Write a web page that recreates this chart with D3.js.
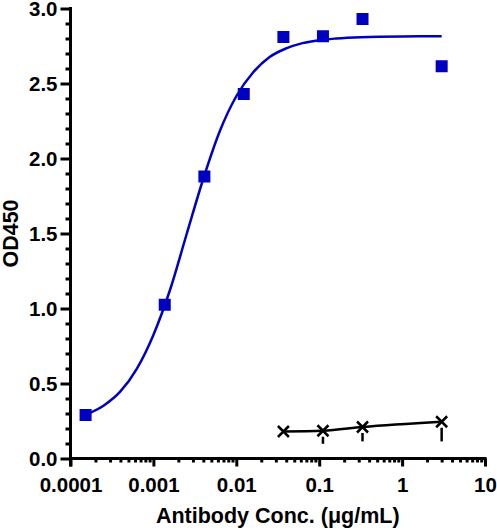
<!DOCTYPE html>
<html lang="en">
<head>
    <meta charset="UTF-8">
    <title>OD450 binding curve</title>
    <script type="text/javascript" src="https://cdn.jsdelivr.net/npm/d3@7/dist/d3.min.js"></script>
    <style>
        body { margin: 0; background: #fff; }
        .axis path,
        .axis line {
            fill: none;
            stroke: #000;
            stroke-width: 3px;
        }
        .axis text {
            font-family: "Liberation Sans", Arial, sans-serif;
            font-size: 20.5px;
            font-weight: bold;
            fill: #000;
        }
        .title {
            font-family: "Liberation Sans", Arial, sans-serif;
            font-size: 21.5px;
            font-weight: bold;
            fill: #000;
        }
    </style>
</head>
<body>
<script type="text/javascript">
    // 画布大小
    let width = 497;
    let height = 532;

    // 抗体浓度 (μg/mL)
    let concBlue = [0.000152, 0.00137, 0.00412, 0.0123, 0.037, 0.111, 0.333, 3];
    let odBlue = [0.29, 1.025, 1.88, 2.43, 2.81, 2.815, 2.93, 2.615];

    // 拟合曲线
    let curveConc = [0.000152, 0.00025, 0.0004, 0.00063, 0.001, 0.0016, 0.0025, 0.004, 0.0063,
        0.01, 0.016, 0.025, 0.04, 0.063, 0.1, 0.16, 0.32, 1, 3];
    let curveOd = [0.292, 0.352, 0.447, 0.598, 0.824, 1.13, 1.49, 1.865, 2.18,
        2.415, 2.575, 2.675, 2.734, 2.769, 2.789, 2.80, 2.809, 2.814, 2.815];

    // 对照组
    let concBlack = [0.037, 0.111, 0.333, 3];
    let odBlack = [0.18, 0.185, 0.21, 0.245];
    let odBlackLow = [0.18, 0.098, 0.114, 0.114];

    // 刻度
    let xTicks = [0.0001, 0.001, 0.01, 0.1, 1, 10];
    let xTickLabels = ['0.0001', '0.001', '0.01', '0.1', '1', '10'];
    let yTicks = [0, 0.5, 1, 1.5, 2, 2.5, 3];

    let svg = d3.select('body')
        .append('svg')
        .attr('width', width)
        .attr('height', height);

    // 比例尺
    let xScale = d3.scaleLog()
        .domain([0.0001, 10])
        .range([70.5, 485]);
    let yScale = d3.scaleLinear()
        .domain([0, 3])
        .range([458.5, 8.5]);

    // 次刻度
    let xMinor = [];
    xTicks.slice(0, -1).forEach(function (t) {
        for (let k = 2; k <= 9; k++) xMinor.push(t * k);
    });
    let yMinor = d3.range(0, 3.001, 0.1).filter(function (v) {
        return Math.abs(v * 2 - Math.round(v * 2)) > 1e-6;
    });

    svg.append('g')
        .attr('class', 'axis')
        .attr('transform', 'translate(0,' + yScale(0) + ')')
        .call(d3.axisBottom(xScale).tickValues(xMinor).tickSize(4).tickFormat('').tickSizeOuter(0))
        .select('.domain').remove();
    svg.append('g')
        .attr('class', 'axis')
        .attr('transform', 'translate(' + xScale(0.0001) + ',0)')
        .call(d3.axisLeft(yScale).tickValues(yMinor).tickSize(5).tickFormat('').tickSizeOuter(0))
        .select('.domain').remove();

    // x轴
    let xAxis = d3.axisBottom(xScale)
        .tickValues(xTicks)
        .tickSize(8)
        .tickSizeOuter(0)
        .tickPadding(11)
        .tickFormat(function (d, i) { return xTickLabels[i]; });
    let gx = svg.append('g')
        .attr('class', 'axis')
        .attr('transform', 'translate(0,' + yScale(0) + ')')
        .call(xAxis);
    gx.select('.domain').attr('d', 'M' + (xScale(0.0001) - 1.5) + ',0H' + (xScale(10) + 1.5));

    // y轴
    let yAxis = d3.axisLeft(yScale)
        .tickValues(yTicks)
        .tickSize(10)
        .tickSizeOuter(0)
        .tickPadding(3)
        .tickFormat(d3.format('.1f'));
    let gy = svg.append('g')
        .attr('class', 'axis')
        .attr('transform', 'translate(' + xScale(0.0001) + ',0)')
        .call(yAxis);
    gy.select('.domain').attr('d', 'M0,' + (yScale(3) - 1.5) + 'V' + (yScale(0) + 8));

    // 轴标题
    svg.append('text')
        .attr('class', 'title')
        .attr('x', (xScale(0.0001) + xScale(10)) / 2)
        .attr('y', 523)
        .attr('text-anchor', 'middle')
        .text('Antibody Conc. (μg/mL)');
    svg.append('text')
        .attr('class', 'title')
        .attr('transform', 'translate(18,' + (yScale(0) + yScale(3)) / 2 + ') rotate(-90)')
        .attr('text-anchor', 'middle')
        .text('OD450');

    // 拟合曲线
    let line = d3.line()
        .x(function (d) { return xScale(d[0]); })
        .y(function (d) { return yScale(d[1]); })
        .curve(d3.curveMonotoneX);

    svg.append('path')
        .datum(d3.zip(curveConc, curveOd))
        .attr('d', line)
        .attr('fill', 'none')
        .attr('stroke', '#0000c0')
        .attr('stroke-width', 2.5);

    // 蓝色方块
    let sq = 12;
    svg.selectAll('.blueSq')
        .data(d3.zip(concBlue, odBlue))
        .enter()
        .append('rect')
        .attr('class', 'blueSq')
        .attr('x', function (d) { return xScale(d[0]) - sq / 2; })
        .attr('y', function (d) { return yScale(d[1]) - sq / 2; })
        .attr('width', sq)
        .attr('height', sq)
        .attr('fill', '#0000c0');

    // 对照组连线
    svg.append('path')
        .datum(d3.zip(concBlack, odBlack))
        .attr('d', line)
        .attr('fill', 'none')
        .attr('stroke', '#000')
        .attr('stroke-width', 2.5);

    // 误差线（只画下方）
    svg.selectAll('.errBar')
        .data(d3.zip(concBlack, odBlack, odBlackLow))
        .enter()
        .append('line')
        .attr('class', 'errBar')
        .attr('x1', function (d) { return xScale(d[0]); })
        .attr('x2', function (d) { return xScale(d[0]); })
        .attr('y1', function (d) { return yScale(d[1]) + 6; })
        .attr('y2', function (d) { return Math.max(yScale(d[2]), yScale(d[1]) + 6); })
        .attr('stroke', '#000')
        .attr('stroke-width', 2.5);

    // 叉号
    let xs = 5.5;
    svg.selectAll('.cross')
        .data(d3.zip(concBlack, odBlack))
        .enter()
        .append('path')
        .attr('class', 'cross')
        .attr('d', function (d) {
            let cx = xScale(d[0]);
            let cy = yScale(d[1]);
            return 'M' + (cx - xs) + ',' + (cy - xs) + 'L' + (cx + xs) + ',' + (cy + xs) +
                'M' + (cx - xs) + ',' + (cy + xs) + 'L' + (cx + xs) + ',' + (cy - xs);
        })
        .attr('stroke', '#000')
        .attr('stroke-width', 2.5)
        .attr('fill', 'none');
</script>
</body>
</html>
